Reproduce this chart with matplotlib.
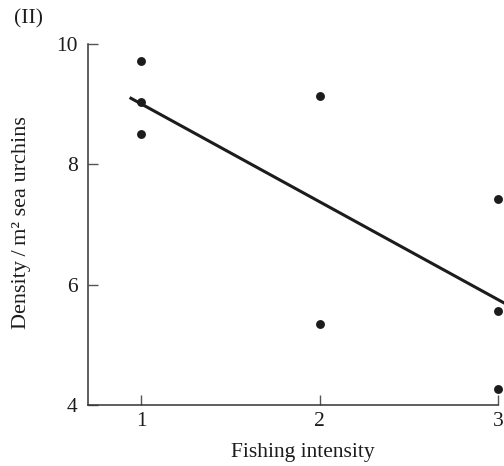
import matplotlib
matplotlib.use("Agg")
import matplotlib.pyplot as plt

# Data
fishing_intensity = [1, 1, 1, 2, 2, 3, 3, 3]
urchin_density = [9.71, 9.03, 8.50, 9.14, 5.35, 7.42, 5.56, 4.27]
fit_x = [0.936, 3.05]
fit_y = [9.11, 5.67]
x_ticks = [1, 2, 3]
y_ticks = [4, 6, 8, 10]

plt.rcParams['font.family'] = ['Liberation Serif', 'DejaVu Serif']
ink = '#1c1c1c'
fs = 15.5

fig = plt.figure(figsize=(5.04, 4.66), dpi=100)
ax = fig.add_axes([87.5/504, 1-405/466, (498-87.5)/504, (405-44)/466])

ax.plot(fit_x, fit_y, color=ink, lw=2.2, clip_on=False, zorder=2,
        solid_capstyle='butt')
ax.plot(fishing_intensity, urchin_density, 'o', color=ink, ms=6.4,
        mec='none', clip_on=False, zorder=3)

ax.set_xlim(0.70, 3.0)
ax.set_ylim(4, 10)
ax.set_xticks(x_ticks)
ax.set_yticks(y_ticks)
ax.set_xticklabels([str(v) for v in x_ticks])
ax.set_yticklabels([str(v) for v in y_ticks])

for s in ['top', 'right']:
    ax.spines[s].set_visible(False)
for s in ['left', 'bottom']:
    ax.spines[s].set_linewidth(1.1)
    ax.spines[s].set_color('#333333')

ax.tick_params(direction='in', length=7.5, width=1.0, color='#555555',
               labelsize=fs, labelcolor=ink)
ax.tick_params(axis='x', pad=5)
ax.tick_params(axis='y', pad=7)

fig.text(303/504, 14/466, 'Fishing intensity', ha='center', va='center',
         fontsize=fs, color=ink)
fig.text(22/504, 1-223/466, 'Density\u2009/\u2009m\u00b2 sea urchins', ha='center',
         va='center', rotation=90, fontsize=fs + 0.5, color=ink)
fig.text(14/504, 1-19/466, '(II)', ha='left', va='center',
         fontsize=fs, color=ink)

fig.savefig('out.png', dpi=100)
